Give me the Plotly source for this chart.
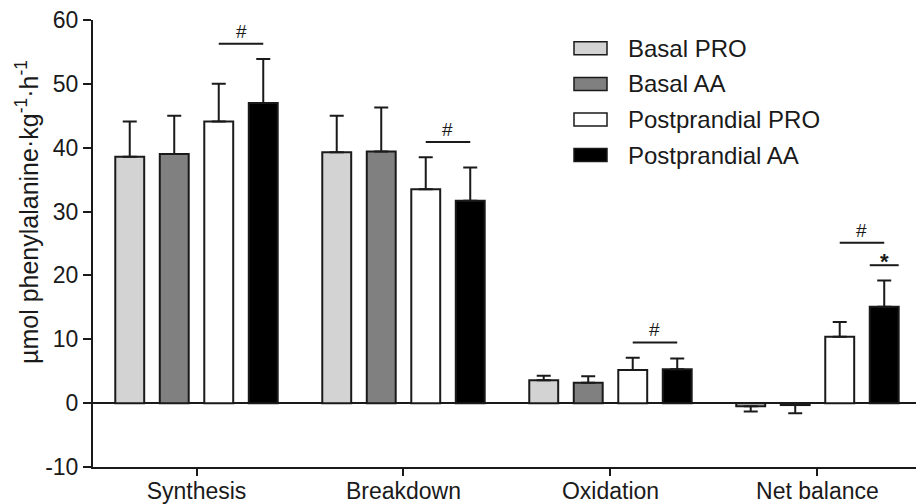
import plotly.graph_objects as go

# ---- data -------------------------------------------------------------
categories = ["Synthesis", "Breakdown", "Oxidation", "Net balance"]
series_names = ["Basal PRO", "Basal AA", "Postprandial PRO", "Postprandial AA"]
series_colors = ["#d3d3d3", "#808080", "#ffffff", "#000000"]

basal_pro = [38.6, 39.3, 3.6, -0.5]
basal_aa = [39.0, 39.4, 3.2, -0.3]
post_pro = [44.1, 33.5, 5.2, 10.4]
post_aa = [47.0, 31.7, 5.3, 15.1]

basal_pro_sd = [5.5, 5.7, 0.7, 0.8]
basal_aa_sd = [6.0, 6.9, 1.0, 1.3]
post_pro_sd = [5.9, 5.0, 1.9, 2.3]
post_aa_sd = [6.9, 5.2, 1.7, 4.1]

means = [basal_pro, basal_aa, post_pro, post_aa]
sds = [basal_pro_sd, basal_aa_sd, post_pro_sd, post_aa_sd]

y_ticks = [-10, 0, 10, 20, 30, 40, 50, 60]
y_tick_labels = ["-10", "0", "10", "20", "30", "40", "50", "60"]

# significance marks: (category index, series indices spanned, symbol, stack level)
sig_marks = [
    (0, (2, 3), "#", 0),
    (1, (2, 3), "#", 0),
    (2, (2, 3), "#", 0),
    (3, (3,), "*", 0),
    (3, (2, 3), "#", 1),
]

# ---- style ------------------------------------------------------------
FONT = "Liberation Sans, Arial, Helvetica, sans-serif"
INK = "#1a1a1a"
W, H = 916, 504
M_L, M_R, M_T, M_B = 93, 0, 20, 37
BARGAP, GROUPGAP = 0.14, 0.35
X_RANGE = [-0.5, 3.476]
Y_RANGE = [-10, 60]

fig = go.Figure()

for name, color, vals, sd in zip(series_names, series_colors, means, sds):
    up = [s if v >= 0 else 0 for v, s in zip(vals, sd)]
    down = [s if v < 0 else 0 for v, s in zip(vals, sd)]
    fig.add_trace(go.Bar(
        x=categories, y=vals, name=name,
        marker=dict(color=color, line=dict(color=INK, width=2)),
        error_y=dict(type="data", symmetric=False, array=up, arrayminus=down,
                     color=INK, thickness=2, width=7),
        showlegend=False,
    ))

# bar geometry in category units (matches bargap / bargroupgap)
slot = (1 - BARGAP) / len(series_names)
half_bar = slot * (1 - GROUPGAP) / 2


def bar_center(cat, s):
    return cat + (s - (len(series_names) - 1) / 2) * slot


def bar_top(cat, s):
    v = means[s][cat]
    return v + sds[s][cat] if v >= 0 else v


shapes = []
annotations = []
GAP, STEP = 2.4, 3.5
for cat, span, sym, level in sig_marks:
    y = max(bar_top(cat, s) for s in span) + GAP + level * STEP
    if len(span) > 1:
        x0, x1 = bar_center(cat, span[0]), bar_center(cat, span[-1])
    else:
        x0 = bar_center(cat, span[0]) - half_bar
        x1 = bar_center(cat, span[0]) + half_bar
    shapes.append(dict(type="line", xref="x", yref="y", x0=x0, x1=x1, y0=y, y1=y,
                       line=dict(color=INK, width=2)))
    if sym == "*":
        annotations.append(dict(x=(x0 + x1) / 2, y=y, xref="x", yref="y",
                                text="<b>*</b>", showarrow=False, yanchor="bottom",
                                yshift=-11, font=dict(family=FONT, size=22, color=INK)))
    else:
        annotations.append(dict(x=(x0 + x1) / 2, y=y, xref="x", yref="y",
                                text=sym, showarrow=False, yanchor="bottom",
                                yshift=0, font=dict(family=FONT, size=19, color=INK)))

# legend drawn as outlined swatches + labels (pixel layout converted to paper)
plot_w = W - M_L - M_R
plot_h = H - M_T - M_B


def px_x(px):
    return (px - M_L) / plot_w


def px_y(py):
    return (H - M_B - py) / plot_h


LEG_TOP, LEG_STEP = 48.3, 35.6
for i, (name, color) in enumerate(zip(series_names, series_colors)):
    cy = LEG_TOP + i * LEG_STEP
    shapes.append(dict(type="rect", xref="paper", yref="paper",
                       x0=px_x(574), x1=px_x(607), y0=px_y(cy + 6.5), y1=px_y(cy - 6.5),
                       fillcolor=color, line=dict(color=INK, width=1.5)))
    annotations.append(dict(x=px_x(626), y=px_y(cy), xref="paper", yref="paper",
                            text=name, showarrow=False, xanchor="left", yanchor="middle",
                            font=dict(family=FONT, size=24, color=INK)))

# y-axis title, centred on the 0-60 span
annotations.append(dict(
    x=px_x(27), y=px_y(212), xref="paper", yref="paper",
    text="µmol phenylalanine·kg<sup>-1</sup>·h<sup>-1</sup>",
    textangle=-90, showarrow=False, xanchor="center", yanchor="middle",
    font=dict(family=FONT, size=25, color=INK)))

fig.update_layout(
    width=W, height=H,
    margin=dict(l=M_L, r=M_R, t=M_T, b=M_B, pad=0, autoexpand=False),
    paper_bgcolor="white", plot_bgcolor="white",
    barmode="group", bargap=BARGAP, bargroupgap=GROUPGAP,
    font=dict(family=FONT, color=INK),
    shapes=shapes, annotations=annotations,
    showlegend=False,
)
fig.update_xaxes(
    type="category", range=X_RANGE, showgrid=False, zeroline=False,
    showline=True, linecolor=INK, linewidth=2, automargin=False,
    ticks="outside", ticklen=7, tickwidth=2, tickcolor=INK,
    ticklabelstandoff=-5,
    tickfont=dict(family=FONT, size=23, color=INK),
)
fig.update_yaxes(
    range=Y_RANGE, tickvals=y_ticks, ticktext=y_tick_labels, showgrid=False,
    zeroline=True, zerolinecolor=INK, zerolinewidth=2,
    showline=True, linecolor=INK, linewidth=2, automargin=False,
    ticks="outside", ticklen=8, tickwidth=2, tickcolor=INK,
    tickfont=dict(family=FONT, size=23, color=INK),
)

fig.write_html("out.html", config=dict(displayModeBar=False))
